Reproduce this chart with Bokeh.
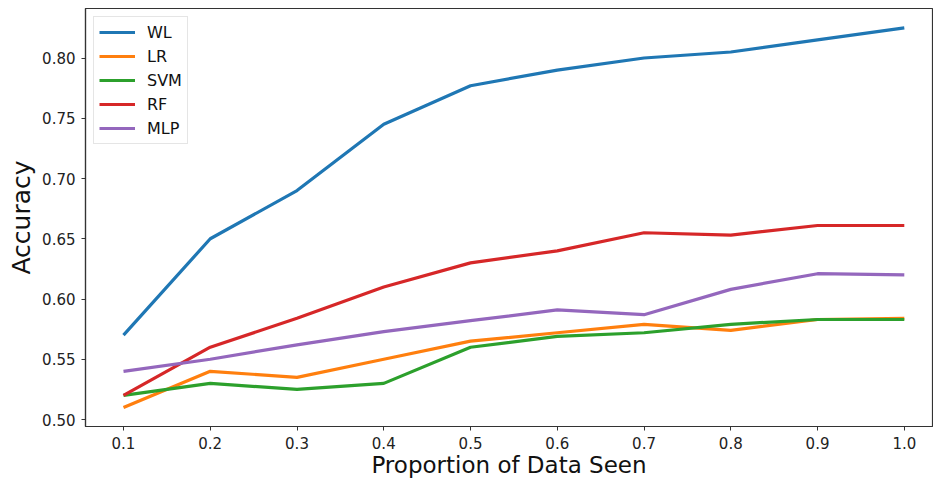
from bokeh.plotting import figure
from bokeh.models import FixedTicker, NumeralTickFormatter, Legend, LegendItem, Range1d
from bokeh.embed import file_html
from bokeh.resources import INLINE

# Accuracy vs. proportion of training data seen, per model
proportion = [0.1, 0.2, 0.3, 0.4, 0.5, 0.6, 0.7, 0.8, 0.9, 1.0]
wl = [0.570, 0.650, 0.690, 0.745, 0.777, 0.790, 0.800, 0.805, 0.815, 0.825]
lr = [0.510, 0.540, 0.535, 0.550, 0.565, 0.572, 0.579, 0.574, 0.583, 0.584]
svm = [0.520, 0.530, 0.525, 0.530, 0.560, 0.569, 0.572, 0.579, 0.583, 0.583]
rf = [0.520, 0.560, 0.584, 0.610, 0.630, 0.640, 0.655, 0.653, 0.661, 0.661]
mlp = [0.540, 0.550, 0.562, 0.573, 0.582, 0.591, 0.587, 0.608, 0.621, 0.620]

series_names = ["WL", "LR", "SVM", "RF", "MLP"]
series_values = [wl, lr, svm, rf, mlp]
colors = ["#1f77b4", "#ff7f0e", "#2ca02c", "#d62728", "#9467bd"]

x_ticks = [0.1, 0.2, 0.3, 0.4, 0.5, 0.6, 0.7, 0.8, 0.9, 1.0]
y_ticks = [0.50, 0.55, 0.60, 0.65, 0.70, 0.75, 0.80]

FONT = "DejaVu Sans"

p = figure(
    width=933, height=481,
    output_backend="svg", toolbar_location=None,
    x_range=Range1d(0.0562, 1.0325), y_range=Range1d(0.4942, 0.8411),
    min_border_left=85, min_border_right=1, min_border_top=8, min_border_bottom=55,
)
p.background_fill_color = "white"
p.border_fill_color = "white"
p.grid.visible = False
p.outline_line_color = "#333333"
p.outline_line_width = 1.2

renderers = []
for name, vals, c in zip(series_names, series_values, colors):
    r = p.line(proportion, vals, line_color=c, line_width=3.2)
    renderers.append((name, r))

for ax in (p.xaxis, p.yaxis):
    ax.axis_line_color = "#333333"
    ax.axis_line_width = 1.2
    ax.major_tick_line_color = "#333333"
    ax.major_tick_out = 4
    ax.major_tick_in = 0
    ax.minor_tick_line_color = None
    ax.major_label_text_font = FONT
    ax.major_label_text_font_size = "15px"
    ax.major_label_text_color = "#222222"
    ax.axis_label_text_font = FONT
    ax.axis_label_text_font_style = "normal"
    ax.axis_label_text_color = "#111111"

p.xaxis.axis_label_text_font_size = "23px"
p.yaxis.axis_label_text_font_size = "25px"

p.xaxis.ticker = FixedTicker(ticks=x_ticks)
p.yaxis.ticker = FixedTicker(ticks=y_ticks)
p.xaxis.formatter = NumeralTickFormatter(format="0.0")
p.yaxis.formatter = NumeralTickFormatter(format="0.00")
p.xaxis.axis_label = "Proportion of Data Seen"
p.yaxis.axis_label = "Accuracy"
p.xaxis.major_label_standoff = 6
p.yaxis.major_label_standoff = 6
p.xaxis.axis_label_standoff = 0
p.yaxis.axis_label_standoff = 3

legend = Legend(
    items=[LegendItem(label=n, renderers=[r]) for n, r in renderers],
    location="top_left",
    margin=8,
    padding=5,
    spacing=4,
    glyph_width=36,
    glyph_height=20,
    label_standoff=12,
    label_text_font=FONT,
    label_text_font_size="16px",
    label_text_color="#111111",
    border_line_color="#cccccc",
    border_line_width=1,
    background_fill_color="white",
    background_fill_alpha=0.9,
)
p.add_layout(legend)

open("out.html", "w").write(file_html(p, INLINE))
